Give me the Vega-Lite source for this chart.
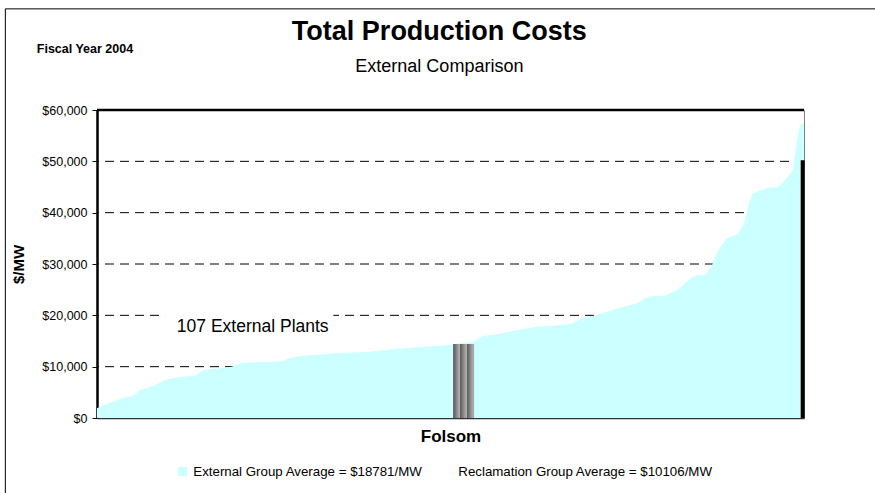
{
  "$schema": "https://vega.github.io/schema/vega-lite/v6.json",
  "width": 707,
  "height": 308,
  "autosize": {"type": "none"},
  "padding": {"left": 97, "top": 110, "right": 71, "bottom": 75},
  "background": "white",
  "config": {
    "font": "Liberation Sans",
    "view": {"stroke": "#808080", "strokeWidth": 1}
  },
  "datasets": {
    "curve": [
      {"rank": 0, "value": 1900, "series": "External Group Average = $18781/MW"},
      {"rank": 1.73, "value": 2860, "series": "External Group Average = $18781/MW"},
      {"rank": 2.75, "value": 3300, "series": "External Group Average = $18781/MW"},
      {"rank": 4.28, "value": 4030, "series": "External Group Average = $18781/MW"},
      {"rank": 5.55, "value": 4280, "series": "External Group Average = $18781/MW"},
      {"rank": 6.57, "value": 5450, "series": "External Group Average = $18781/MW"},
      {"rank": 8.6, "value": 6230, "series": "External Group Average = $18781/MW"},
      {"rank": 10.65, "value": 7530, "series": "External Group Average = $18781/MW"},
      {"rank": 12.94, "value": 8050, "series": "External Group Average = $18781/MW"},
      {"rank": 14.97, "value": 8250, "series": "External Group Average = $18781/MW"},
      {"rank": 16.24, "value": 9350, "series": "External Group Average = $18781/MW"},
      {"rank": 20.58, "value": 10000, "series": "External Group Average = $18781/MW"},
      {"rank": 22.1, "value": 10780, "series": "External Group Average = $18781/MW"},
      {"rank": 27.2, "value": 10970, "series": "External Group Average = $18781/MW"},
      {"rank": 28.4, "value": 11100, "series": "External Group Average = $18781/MW"},
      {"rank": 29.5, "value": 11690, "series": "External Group Average = $18781/MW"},
      {"rank": 31.5, "value": 12140, "series": "External Group Average = $18781/MW"},
      {"rank": 36.6, "value": 12600, "series": "External Group Average = $18781/MW"},
      {"rank": 41.7, "value": 12920, "series": "External Group Average = $18781/MW"},
      {"rank": 46.7, "value": 13570, "series": "External Group Average = $18781/MW"},
      {"rank": 53.9, "value": 14220, "series": "External Group Average = $18781/MW"},
      {"rank": 54.4, "value": 14400, "series": "External Group Average = $18781/MW"},
      {"rank": 57.6, "value": 14900, "series": "External Group Average = $18781/MW"},
      {"rank": 58.5, "value": 15720, "series": "External Group Average = $18781/MW"},
      {"rank": 59.0, "value": 15970, "series": "External Group Average = $18781/MW"},
      {"rank": 61.1, "value": 16300, "series": "External Group Average = $18781/MW"},
      {"rank": 64.2, "value": 17140, "series": "External Group Average = $18781/MW"},
      {"rank": 67.2, "value": 17790, "series": "External Group Average = $18781/MW"},
      {"rank": 69.2, "value": 17920, "series": "External Group Average = $18781/MW"},
      {"rank": 72.3, "value": 18310, "series": "External Group Average = $18781/MW"},
      {"rank": 74.2, "value": 19420, "series": "External Group Average = $18781/MW"},
      {"rank": 76.4, "value": 20070, "series": "External Group Average = $18781/MW"},
      {"rank": 77.9, "value": 20710, "series": "External Group Average = $18781/MW"},
      {"rank": 80.3, "value": 21690, "series": "External Group Average = $18781/MW"},
      {"rank": 82.6, "value": 22340, "series": "External Group Average = $18781/MW"},
      {"rank": 83.7, "value": 23320, "series": "External Group Average = $18781/MW"},
      {"rank": 85.2, "value": 23770, "series": "External Group Average = $18781/MW"},
      {"rank": 86.7, "value": 23770, "series": "External Group Average = $18781/MW"},
      {"rank": 88.8, "value": 25070, "series": "External Group Average = $18781/MW"},
      {"rank": 90.9, "value": 27410, "series": "External Group Average = $18781/MW"},
      {"rank": 91.8, "value": 27860, "series": "External Group Average = $18781/MW"},
      {"rank": 92.9, "value": 27860, "series": "External Group Average = $18781/MW"},
      {"rank": 93.9, "value": 29610, "series": "External Group Average = $18781/MW"},
      {"rank": 94.9, "value": 32730, "series": "External Group Average = $18781/MW"},
      {"rank": 96.2, "value": 35000, "series": "External Group Average = $18781/MW"},
      {"rank": 97.9, "value": 35790, "series": "External Group Average = $18781/MW"},
      {"rank": 99.0, "value": 38570, "series": "External Group Average = $18781/MW"},
      {"rank": 99.6, "value": 41820, "series": "External Group Average = $18781/MW"},
      {"rank": 100.1, "value": 43640, "series": "External Group Average = $18781/MW"},
      {"rank": 102.4, "value": 44860, "series": "External Group Average = $18781/MW"},
      {"rank": 104.0, "value": 44940, "series": "External Group Average = $18781/MW"},
      {"rank": 105.1, "value": 46360, "series": "External Group Average = $18781/MW"},
      {"rank": 106.3, "value": 48310, "series": "External Group Average = $18781/MW"},
      {"rank": 107.1, "value": 55460, "series": "External Group Average = $18781/MW"},
      {"rank": 107.4, "value": 57080, "series": "External Group Average = $18781/MW"},
      {"rank": 108, "value": 57500, "series": "External Group Average = $18781/MW"}
    ],
    "grid": [
      {"value": 10000}, {"value": 20000}, {"value": 30000}, {"value": 40000}, {"value": 50000}
    ],
    "notes": [
      {"rank": 52.3, "value": 73600, "label": "Total Production Costs", "kind": "title"},
      {"rank": 52.3, "value": 67400, "label": "External Comparison", "kind": "subtitle"},
      {"rank": -9.2, "value": 71100, "label": "Fiscal Year 2004", "kind": "fiscal"},
      {"rank": 12.2, "value": 16750, "label": "107 External Plants", "kind": "plants"}
    ]
  },
  "layer": [
    {
      "data": {"values": [{"rank": -14, "rank2": 140, "value": 79700, "value2": -40000}]},
      "mark": {"type": "rect", "fill": "transparent", "stroke": "black", "strokeWidth": 1, "clip": false},
      "encoding": {
        "x": {"field": "rank", "type": "quantitative", "scale": {"domain": [0, 108], "nice": false, "zero": false},
          "axis": {"title": "Folsom", "titleFontSize": 17, "titleFontWeight": "bold", "titleColor": "black", "titlePadding": 10,
                   "labels": false, "ticks": false, "grid": false, "domainColor": "#333333", "domainWidth": 1.5}},
        "x2": {"field": "rank2"},
        "y": {"field": "value", "type": "quantitative", "scale": {"domain": [0, 60000], "nice": false},
          "axis": {"title": "$/MW", "titleFontSize": 15, "titleFontWeight": "bold", "titleColor": "black", "titlePadding": 15,
                   "values": [0, 10000, 20000, 30000, 40000, 50000, 60000], "format": "$,.0f", "labelFontSize": 12.5, "labelColor": "black",
                   "tickColor": "black", "tickSize": 5, "labelPadding": 5, "grid": false, "domainColor": "black", "domainWidth": 2.5}},
        "y2": {"field": "value2"}
      }
    },
    {
      "data": {"name": "grid"},
      "mark": {"type": "rule", "stroke": "black", "strokeWidth": 1, "strokeDash": [9, 6]},
      "encoding": {"y": {"field": "value", "type": "quantitative"}}
    },
    {
      "data": {"values": [{"rank": 10.4, "rank2": 36.1, "value": 21000, "value2": 15500}]},
      "mark": {"type": "rect", "fill": "white"},
      "encoding": {
        "x": {"field": "rank", "type": "quantitative"},
        "x2": {"field": "rank2"},
        "y": {"field": "value", "type": "quantitative"},
        "y2": {"field": "value2"}
      }
    },
    {
      "data": {"name": "curve"},
      "mark": {"type": "area", "interpolate": "linear", "opacity": 1},
      "encoding": {
        "x": {"field": "rank", "type": "quantitative"},
        "y": {"field": "value", "type": "quantitative"},
        "color": {"field": "series", "type": "nominal",
          "scale": {"domain": ["External Group Average = $18781/MW", "Reclamation Group Average = $10106/MW"], "range": ["#CCFFFF", "#FFFFFF"]},
          "legend": {"orient": "none", "legendX": 79, "legendY": 355, "direction": "horizontal", "title": null,
                     "symbolType": "square", "symbolSize": 81, "symbolStrokeWidth": 0, "labelFontSize": 13.3, "labelColor": "black",
                     "labelLimit": 400, "columnPadding": 18, "labelOffset": 4}}
      }
    },
    {
      "data": {"values": [{"rank": 54.4, "rank2": 57.6, "value": 14400, "value2": 0}]},
      "mark": {"type": "rect", "fill": {"gradient": "linear", "x1": 0, "x2": 1, "y1": 0, "y2": 0,
        "stops": [
          {"offset": 0, "color": "#555555"}, {"offset": 0.3, "color": "#b0b0b0"}, {"offset": 0.333, "color": "#a8a8a8"},
          {"offset": 0.334, "color": "#5a5a5a"}, {"offset": 0.63, "color": "#b0b0b0"}, {"offset": 0.666, "color": "#a8a8a8"},
          {"offset": 0.667, "color": "#5a5a5a"}, {"offset": 0.95, "color": "#b0b0b0"}, {"offset": 1, "color": "#9a9a9a"}
        ]}},
      "encoding": {
        "x": {"field": "rank", "type": "quantitative"},
        "x2": {"field": "rank2"},
        "y": {"field": "value", "type": "quantitative"},
        "y2": {"field": "value2"}
      }
    },
    {
      "data": {"values": [{"value": 60000}]},
      "mark": {"type": "rule", "stroke": "black", "strokeWidth": 2.5},
      "encoding": {"y": {"field": "value", "type": "quantitative"}}
    },
    {
      "data": {"values": [{"rank": 107.8, "value": 50200, "value2": 0}]},
      "mark": {"type": "rule", "stroke": "black", "strokeWidth": 4},
      "encoding": {
        "x": {"field": "rank", "type": "quantitative"},
        "y": {"field": "value", "type": "quantitative"},
        "y2": {"field": "value2"}
      }
    },
    {
      "data": {"name": "notes"},
      "transform": [{"filter": "datum.kind == 'plants'"}],
      "mark": {"type": "text", "align": "left", "baseline": "alphabetic", "fontSize": 17.5, "color": "black"},
      "encoding": {
        "x": {"field": "rank", "type": "quantitative"},
        "y": {"field": "value", "type": "quantitative"},
        "text": {"field": "label"}
      }
    },
    {
      "data": {"name": "notes"},
      "transform": [{"filter": "datum.kind == 'fiscal'"}],
      "mark": {"type": "text", "align": "left", "baseline": "alphabetic", "fontSize": 12.5, "fontWeight": "bold", "color": "black"},
      "encoding": {
        "x": {"field": "rank", "type": "quantitative"},
        "y": {"field": "value", "type": "quantitative"},
        "text": {"field": "label"}
      }
    },
    {
      "data": {"name": "notes"},
      "transform": [{"filter": "datum.kind == 'title'"}],
      "mark": {"type": "text", "align": "center", "baseline": "alphabetic", "fontSize": 27, "fontWeight": "bold", "color": "black"},
      "encoding": {
        "x": {"field": "rank", "type": "quantitative"},
        "y": {"field": "value", "type": "quantitative"},
        "text": {"field": "label"}
      }
    },
    {
      "data": {"name": "notes"},
      "transform": [{"filter": "datum.kind == 'subtitle'"}],
      "mark": {"type": "text", "align": "center", "baseline": "alphabetic", "fontSize": 18, "color": "black"},
      "encoding": {
        "x": {"field": "rank", "type": "quantitative"},
        "y": {"field": "value", "type": "quantitative"},
        "text": {"field": "label"}
      }
    }
  ]
}
